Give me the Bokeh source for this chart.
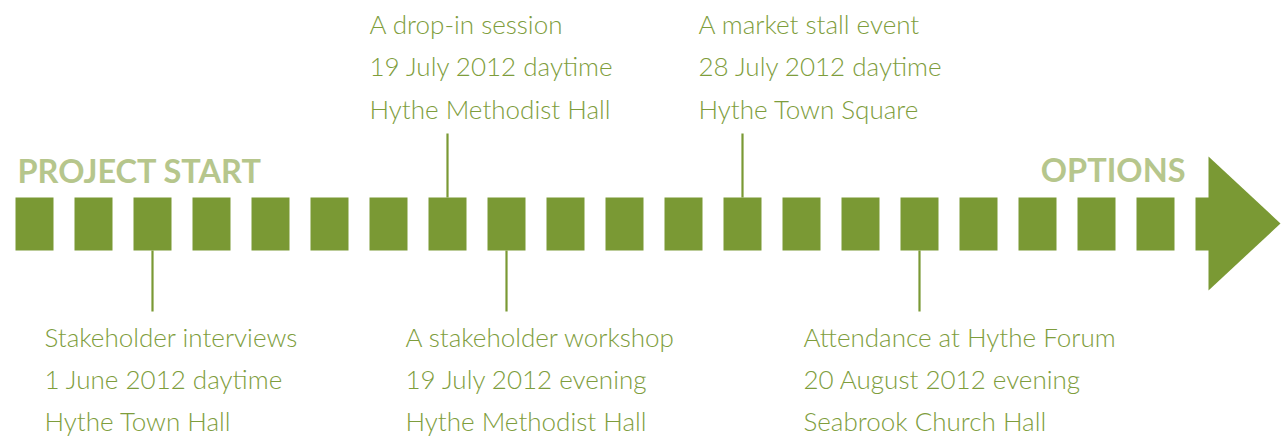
from bokeh.plotting import figure
from bokeh.models import Range1d, ColumnDataSource
from bokeh.core.properties import value
from bokeh.embed import file_html
from bokeh.resources import INLINE

# ---- data ----
n_steps = 20
event_step = [2, 7, 8, 12, 15]
event_side = ["below", "above", "below", "above", "below"]
event_title = ["Stakeholder interviews", "A drop-in session", "A stakeholder workshop",
               "A market stall event", "Attendance at Hythe Forum"]
event_date = ["1 June 2012 daytime", "19 July 2012 daytime", "19 July 2012 evening",
              "28 July 2012 daytime", "20 August 2012 evening"]
event_place = ["Hythe Town Hall", "Hythe Methodist Hall", "Hythe Methodist Hall",
               "Hythe Town Square", "Seabrook Church Hall"]
start_label = "PROJECT START"
end_label = "OPTIONS"

# ---- layout / style ----
X0, PITCH, SQ_W = 15, 59, 38
Y_TOP, Y_BOT = 197, 250
label_shift = [-108, -78, -101, -44, -116]
DARK = "#7a9934"
TEXT = "#7e9d3c"
LIGHT = "#b6c68c"
FONT = "Lato Light, Lato"
FS = "26px"

p = figure(width=1285, height=437, x_range=Range1d(0, 1285), y_range=Range1d(437, 0),
           output_backend="svg", toolbar_location=None, min_border=0,
           outline_line_color=None, background_fill_color="white")
p.axis.visible = False
p.grid.visible = False

lefts = [X0 + PITCH * i for i in range(n_steps)]
p.quad(left=lefts, right=[l + SQ_W for l in lefts], top=Y_TOP, bottom=Y_BOT,
       fill_color=DARK, line_color=None)

# arrow head
ax = X0 + PITCH * n_steps
p.quad(left=[ax], right=[ax + 14], top=Y_TOP, bottom=Y_BOT, fill_color=DARK, line_color=None)
p.patch(x=[ax + 13, ax + 13, ax + 85], y=[156, 290, 223], fill_color=DARK, line_color=None)

# connectors and labels
cx = [X0 + SQ_W / 2 + PITCH * s for s in event_step]
y0 = [Y_TOP if side == "above" else Y_BOT for side in event_side]
y1 = [133 if side == "above" else 311 for side in event_side]
p.segment(x0=cx, y0=y0, x1=cx, y1=y1, line_color=DARK, line_width=2.2)

tx, ty, tt = [], [], []
for c, side, sh, a, b, d in zip(cx, event_side, label_shift, event_title, event_date, event_place):
    bases = [23, 65.5, 108] if side == "above" else [336, 378, 420]
    for yy, txt in zip(bases, [a, b, d]):
        tx.append(c + sh)
        ty.append(yy)
        tt.append(txt)
src = ColumnDataSource(dict(x=tx, y=ty, t=tt))
p.text(x="x", y="y", text="t", source=src, text_font=value(FONT), text_font_size=FS,
       text_color=TEXT, text_align="left", text_baseline="alphabetic")

p.text(x=[17], y=[170], text=[start_label], text_font=value("Lato"), text_font_style="bold",
       text_font_size="32.5px", text_color=LIGHT, text_align="left", text_baseline="alphabetic")
p.text(x=[1185], y=[169], text=[end_label], text_font=value("Lato"), text_font_style="bold",
       text_font_size="32.5px", text_color=LIGHT, text_align="right", text_baseline="alphabetic")

open("out.html", "w").write(file_html(p, INLINE))
